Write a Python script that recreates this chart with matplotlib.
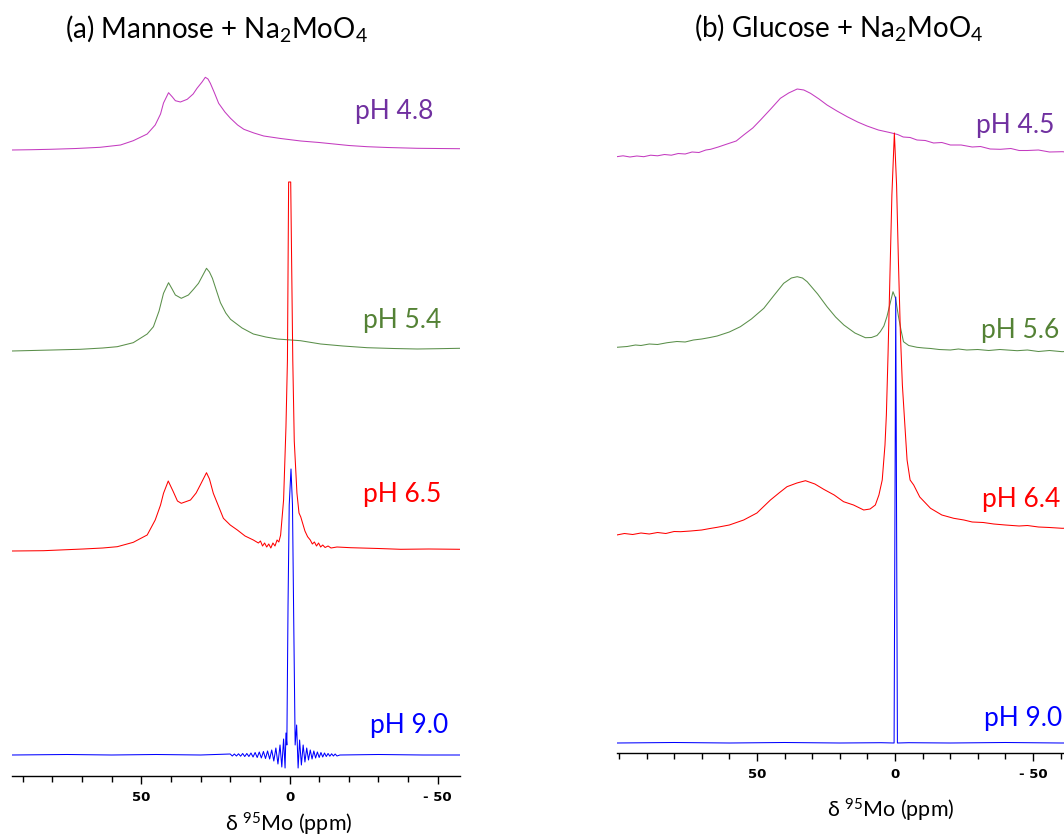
"""
95Mo NMR spectra of mannose / glucose + Na2MoO4 at several pH values
"""

import matplotlib.pyplot as plt
import matplotlib.ticker as mticker

plt.rcParams['font.family'] = ['Lato', 'DejaVu Sans']
plt.rcParams['mathtext.fontset'] = 'custom'
plt.rcParams['mathtext.rm'] = 'Lato'
plt.rcParams['mathtext.it'] = 'Lato:italic'
plt.rcParams['mathtext.bf'] = 'Lato:bold'

# ══════════════════════════════════════════════════════════
# DATA  (ppm, intensity above each trace's own baseline)
# ══════════════════════════════════════════════════════════

# (a) Mannose
a48_ppm = [93.7, 87, 80.7, 72, 63.9, 57, 52.7, 48.0, 45.3, 43.5,
           42.5, 40.8, 39.5, 38.5, 36.8, 34.5, 32.5, 31.2, 29.5, 28.4,
           27.5, 26.7, 25.3, 23.9, 21.8, 19.9, 17.5, 15.4, 12, 8.7,
           3, -3.8, -10, -15, -20, -26.2, -33, -43.1, -50, -57.5]
a48_int = [0, 0.3, 0.7, 1.5, 2.7, 5, 9.3, 16, 25, 36,
           47, 57.3, 53, 49.3, 48, 50.7, 56, 61.7, 68, 72.7,
           71, 66.7, 57, 46.7, 38, 31.7, 25, 20.7, 17, 14,
           11.5, 9, 7.5, 6, 4.5, 3.3, 2.5, 1.7, 1.5, 1.3]

a54_ppm = [93.7, 80, 70.6, 63, 58.1, 52.7, 48, 45.9, 44, 42.5,
           40.8, 39.6, 38.5, 36.5, 34.1, 32.3, 30.7, 29.2, 28.0, 27,
           26, 24.6, 23.3, 21.5, 19.9, 16, 12.2, 8, 4.1, -3.7,
           -10.5, -18, -26.2, -35, -43.1, -50, -57.5]
a54_int = [0, 1, 1.7, 3, 4.3, 8.3, 17, 24.3, 40, 57.7,
           68.3, 62, 56, 52.7, 56, 62, 67.7, 76, 82.7, 79,
           72.7, 60, 48.3, 38, 31.7, 23, 17, 14, 12, 10.3,
           7, 5, 3.3, 2.5, 2, 2.3, 2.7]

a65_ppm = [93.7, 83, 69.6, 63, 58.1, 52.7, 48, 45.3, 43.5, 42.5,
           40.9, 39.2, 37.8, 36.5, 33.4, 31.5, 30.1, 28.0, 27, 25.7,
           22.3, 20, 17.6, 15, 12.2, 10.5, 9.8, 9.1, 8.4, 7.7,
           7.0, 6.3, 5.6, 4.9, 4.2, 3.6, 3.0, 2.0, 1.2, 0.7,
           0.3, -0.4, -1.1, -1.6, -2.5, -3.2, -3.8, -4.4, -5.2, -6.1,
           -7.0, -7.7, -8.4, -9.1, -9.8, -10.5, -11.2, -12, -13, -14,
           -16, -20.6, -30, -37.5, -47, -57.5]
a65_int = [0, 0.3, 2, 3, 4.3, 8.7, 16, 31, 46, 57.7,
           70, 59.3, 50, 47.7, 51, 58, 66, 78.3, 72, 57.7,
           32.7, 26, 21, 15, 11, 8, 10, 5, 8, 4,
           7, 3, 8, 5, 11, 9, 16, 51, 124, 191,
           369, 369, 191, 110, 58, 38, 34, 28, 20, 14.3,
           11, 7, 9, 5, 8, 4, 6, 3.5, 5, 3,
           4, 3.3, 2.5, 1.7, 2, 1.7]

a90_ppm = [93.7, 75, 60, 45, 30, 20, 19.3, 18.6, 17.9, 17.2,
           16.5, 15.8, 15.1, 14.4, 13.7, 13.0, 12.3, 11.6, 10.9, 10.2,
           9.5, 8.8, 8.1, 7.4, 6.7, 6.0, 5.3, 4.6, 3.9, 3.2,
           2.6, 2.0, 1.5, 1.2, 0.9, 0.5, 0.1, -0.5, -1.0, -1.4,
           -1.9, -2.4, -2.9, -3.4, -4.0, -4.6, -5.2, -5.8, -6.4, -7.0,
           -7.6, -8.2, -8.8, -9.4, -10.0, -10.6, -11.2, -11.8, -12.4, -13.0,
           -13.6, -14.2, -14.8, -15.4, -16.0, -17, -30, -45, -57.5]
a90_int = [0, 0.5, 0, 0.5, 0, 1, -1, 1, -1, 1.2,
           -1.2, 1.5, -1.5, 1.5, -1.5, 2, -2, 2.5, -2.5, 3,
           -3, 3.5, -3.5, 4, -4, 5, -6, 7, -9, 10,
           -12, 16, -13, 22, 10, 150, 250, 286, 250, 140,
           10, 30, -13, 15, -10, 10, -7, 7, -5, 5,
           -4, 4, -3, 3, -2.5, 2.5, -2, 2, -1.5, 1.5,
           -1.2, 1.2, -1, 1, -1, 0, 0.5, 0, 0]

# (b) Glucose
b45_ppm = [100.8, 98.5, 96, 93.5, 91, 88.5, 86, 83.5, 81, 78.5,
           76, 73.5, 71, 68.5, 66.8, 64, 60.8, 57.5, 54.8, 51.5,
           48.7, 45, 41.5, 38.5, 35.4, 33, 30.6, 27.5, 24.6, 21,
           17.3, 13.5, 10.1, 6, 1.6, -1, -3, -5.5, -8.0, -11,
           -14, -17, -20.1, -24, -28, -31, -34.5, -38.2, -42, -45,
           -48, -52, -56, -60.6, -64, -68, -71, -74.5]
b45_int = [0.3, 1.2, 0, 1, 0.3, 1.8, 1.2, 2.5, 1.8, 3.5,
           3, 5, 4.5, 7, 7.7, 10, 13, 16, 22, 29,
           37, 48, 58.7, 64, 68, 67, 63.7, 58, 52, 46,
           40.3, 35, 31, 27, 24.3, 22.5, 20, 19.5, 17, 16.5,
           14, 14.5, 12, 12, 10, 10.5, 8, 7.7, 8.5, 6.5,
           6.5, 7, 5, 5.3, 4.5, 5.5, 4.5, 5]

b56_ppm = [100.8, 97, 94, 92, 89, 86, 82.5, 79, 76, 73,
           70, 67, 64.4, 60, 56, 52, 47.5, 44, 40.3, 37.5,
           35.4, 33.5, 31.8, 28, 24.6, 21.5, 18.5, 14.5, 10.7, 8.5,
           6.5, 5.3, 4, 2.9, 1.7, 0.7, -0.2, -1.3, -2.2, -3.1,
           -5, -8.0, -10.5, -13, -16, -20.1, -23, -26, -30, -34,
           -38, -44.3, -48, -52, -56, -60.6, -64, -68, -71, -74.5]
b56_int = [0.7, 1.5, 3, 2.5, 4, 3.5, 5.3, 6.5, 6, 8,
           9, 10.5, 12, 16, 21.3, 29, 39.7, 52, 64.7, 70,
           71.3, 70, 66.3, 54, 41.3, 31, 23, 15, 10.3, 10.5,
           12.5, 16.3, 22, 31.3, 45, 56.3, 50, 31.3, 18, 6.3,
           2.5, 0.7, 0, -0.5, -1.5, -2, -1, -2, -1.5, -2.5,
           -1.5, -2.7, -2, -3.5, -2.5, -3.7, -3, -4, -3.5, -4]

b64_ppm = [100.8, 98, 95, 92, 89, 86, 83, 80, 77.7, 74,
           70, 67, 64.4, 60, 54.8, 50, 45.1, 42, 39.1, 35.5,
           32.4, 29, 25.8, 22, 18.6, 15, 11.3, 9, 7.1, 5.8,
           4.6, 3.6, 3.1, 2.5, 1.8, 1.1, 0.2, -0.6, -1.3, -2.0,
           -2.7, -3.6, -4.4, -5.5, -6.8, -9, -12.9, -17, -21.3, -25,
           -28, -32, -35.8, -40, -45, -48, -52, -56, -60.6, -65,
           -70, -74.5]
b64_int = [0, 1.5, 0.5, 2, 1, 2.5, 1.5, 3.5, 3.3, 4,
           5, 6.5, 7.7, 10, 15, 22, 35, 42, 48.3, 52,
           54.3, 51, 45.7, 40, 33.3, 30, 25, 26, 30, 40,
           55, 90, 120, 180, 260, 340, 402, 350, 270, 200,
           150, 110, 75, 55, 50, 38, 26.7, 20, 16.7, 15,
           13, 12.5, 11, 10, 9, 9.5, 8, 7.5, 6.7, 7,
           6, 6]

b90_ppm = [100.8, 80, 60, 40, 20, 5, 0.3, -0.3, -0.9, -5, -20, -40, -60, -74.5]
b90_int = [0, 0.5, 0, 0.5, 0, 0.3, 0, 446, 0, 0.3, 0, 0.5, 0, 0]

labels_a = ["pH 4.8", "pH 5.4", "pH 6.5", "pH 9.0"]
labels_b = ["pH 4.5", "pH 5.6", "pH 6.4", "pH 9.0"]

# ══════════════════════════════════════════════════════════
# STYLE / LAYOUT
# ══════════════════════════════════════════════════════════
trace_colors = ["#c43bc0", "#5a8f4a", "#ff0000", "#0000ff"]
label_colors = ["#7030a0", "#548235", "#ff0000", "#0000ff"]

W, H = 1064, 838
fig = plt.figure(figsize=(W / 100, H / 100), dpi=100)

# axes placed in pixel terms so the y unit is one pixel
ax_a = fig.add_axes([11.7 / W, (H - 776) / H, (460 - 11.7) / W, 776 / H])
ax_a.set_xlim(93.7, -57.5)
ax_a.set_ylim(0, 776)

ax_b = fig.add_axes([616.7 / W, (H - 753) / H, (1100 - 616.7) / W, 753 / H])
ax_b.set_xlim(100.8, -74.3)
ax_b.set_ylim(0, 753)

offsets_a = [626, 425, 225, 21]
offsets_b = [596, 405, 218, 10]

series_a = [(a48_ppm, a48_int), (a54_ppm, a54_int), (a65_ppm, a65_int), (a90_ppm, a90_int)]
series_b = [(b45_ppm, b45_int), (b56_ppm, b56_int), (b64_ppm, b64_int), (b90_ppm, b90_int)]

# label anchor (ppm, y) for each pH text
label_pos_a = [(-22.1, 657), (-24.8, 448), (-24.8, 274), (-27.2, 43)]
label_pos_b = [(-29.4, 620), (-31.2, 415), (-31.4, 246), (-32.2, 27)]


def draw_panel(ax, series, offsets, labels, label_pos):
    for (ppm, inten), off, c, lc, lab, (lx, ly) in zip(
            series, offsets, trace_colors, label_colors, labels, label_pos):
        ax.plot(ppm, [v + off for v in inten], color=c, linewidth=0.75)
        ax.text(lx, ly, lab, color=lc, fontsize=19, ha="left", va="baseline")

    for side in ["left", "right", "top"]:
        ax.spines[side].set_visible(False)
    ax.spines["bottom"].set_linewidth(1.0)
    ax.set_yticks([])
    ax.set_xticks([50, 0, -50])
    ax.set_xticklabels(["50", "0", "- 50"], fontfamily="DejaVu Sans",
                       fontweight="bold", fontsize=9.5)
    ax.xaxis.set_minor_locator(mticker.MultipleLocator(10))
    ax.tick_params(axis="x", which="major", direction="out", length=6, width=1, pad=5)
    ax.tick_params(axis="x", which="minor", direction="out", length=4, width=1)
    ax.patch.set_visible(False)


draw_panel(ax_a, series_a, offsets_a, labels_a, label_pos_a)
draw_panel(ax_b, series_b, offsets_b, labels_b, label_pos_b)

# titles and axis labels
fig.text(216 / W, 1 - 37 / H, r"(a) Mannose + Na$_\mathregular{2}$MoO$_\mathregular{4}$",
         fontsize=20, ha="center", va="baseline")
fig.text(839 / W, 1 - 36.5 / H, r"(b) Glucose + Na$_\mathregular{2}$MoO$_\mathregular{4}$",
         fontsize=20, ha="center", va="baseline")
fig.text(288.5 / W, 1 - 831 / H, r"δ $^\mathregular{95}$Mo (ppm)",
         fontsize=15.5, ha="center", va="baseline")
fig.text(891 / W, 1 - 817 / H, r"δ $^\mathregular{95}$Mo (ppm)",
         fontsize=15.5, ha="center", va="baseline")

plt.savefig("out.png", dpi=100)
plt.close()
